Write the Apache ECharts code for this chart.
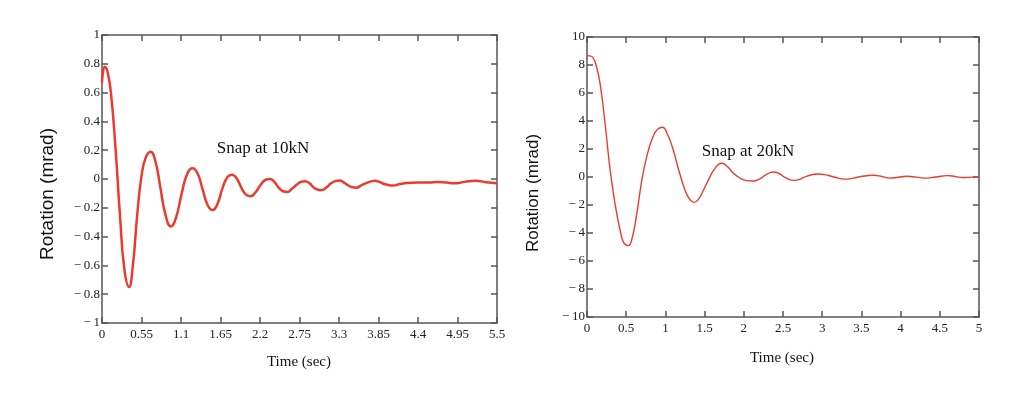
<!DOCTYPE html>
<html>
<head>
<meta charset="utf-8">
<script src="https://cdn.jsdelivr.net/npm/echarts@6/dist/echarts.min.js"></script>
<style>
html,body{margin:0;padding:0;background:#fff;}
#c{width:1024px;height:399px;}
</style>
</head>
<body>
<div id="c"></div>
<script>
// Left panel: Snap at 10kN
var timeA = [0,0.04,0.08,0.13,0.19,0.25,0.31,0.376,0.43,0.49,0.55,0.61,0.678,0.74,0.81,0.88,0.96,1.03,1.11,1.19,1.26,1.33,1.40,1.47,1.54,1.61,1.68,1.75,1.81,1.88,1.95,2.01,2.07,2.14,2.21,2.28,2.34,2.40,2.46,2.52,2.58,2.64,2.71,2.77,2.83,2.89,2.95,3.00,3.06,3.12,3.19,3.25,3.31,3.37,3.43,3.49,3.54,3.61,3.67,3.74,3.80,3.86,3.93,4.0,4.05,4.15,4.25,4.4,4.55,4.67,4.8,4.9,5.05,5.2,5.35,5.5];
var rotA  = [0.67,0.78,0.74,0.57,0.2,-0.25,-0.62,-0.75,-0.6,-0.25,0.02,0.15,0.19,0.13,-0.05,-0.24,-0.33,-0.27,-0.1,0.04,0.075,0.04,-0.07,-0.18,-0.215,-0.17,-0.06,0.015,0.03,0.0,-0.07,-0.11,-0.12,-0.09,-0.04,-0.005,0.0,-0.02,-0.06,-0.085,-0.09,-0.07,-0.04,-0.02,-0.015,-0.03,-0.06,-0.073,-0.077,-0.06,-0.03,-0.015,-0.01,-0.025,-0.045,-0.058,-0.06,-0.045,-0.03,-0.018,-0.012,-0.02,-0.035,-0.043,-0.045,-0.035,-0.028,-0.025,-0.025,-0.02,-0.025,-0.03,-0.02,-0.012,-0.022,-0.03];
// Right panel: Snap at 20kN
var timeB = [0,0.04,0.08,0.12,0.166,0.23,0.29,0.338,0.378,0.43,0.47,0.527,0.57,0.63,0.70,0.76,0.825,0.89,0.96,1.03,1.10,1.17,1.25,1.31,1.365,1.42,1.48,1.55,1.63,1.72,1.79,1.86,1.93,2.02,2.12,2.2,2.28,2.377,2.45,2.53,2.65,2.72,2.8,2.95,3.05,3.15,3.29,3.4,3.5,3.65,3.76,3.86,3.97,4.08,4.2,4.3,4.45,4.6,4.7,4.8,4.9,5.0];
var rotB  = [8.66,8.65,8.5,7.9,6.7,3.86,0.74,-1.2,-2.57,-4.0,-4.7,-4.9,-4.5,-2.8,-0.2,1.4,2.64,3.35,3.55,3.0,1.93,0.5,-0.93,-1.6,-1.81,-1.6,-1.0,-0.2,0.6,0.98,0.75,0.3,0.0,-0.24,-0.29,-0.15,0.15,0.36,0.25,-0.05,-0.24,-0.15,0.05,0.21,0.15,0.0,-0.15,-0.08,0.04,0.12,0.04,-0.08,-0.02,0.05,-0.01,-0.08,0.0,0.1,0.03,-0.04,-0.01,-0.03];

function pairs(xs, ys){ return xs.map(function(x,i){return [x, ys[i]];}); }
function fmt(v){
  var r = Math.round(v*100)/100;
  if (r < 0) return '\u2212\u2009' + String(-r);
  return String(r);
}
var serif = '"Liberation Serif","DejaVu Serif",serif';
var sans = '"Liberation Sans","DejaVu Sans",sans-serif';
var axisCol = '#555';
var red = '#ec3a2c';

function xAxes(grid, max, interval){
  var base = {
    type:'value', gridIndex:grid, min:0, max:max, interval:interval,
    axisLine:{show:true, onZero:false, lineStyle:{color:axisCol, width:1.5}},
    axisTick:{show:true, inside:true, length:6, lineStyle:{color:axisCol, width:1.5}},
    splitLine:{show:false}
  };
  var bottom = Object.assign({}, base, {position:'bottom',
    axisLabel:{show:true, formatter:fmt, color:'#222', fontFamily:serif, fontSize:13, margin:5}});
  var top = Object.assign({}, base, {position:'top', axisLabel:{show:false}});
  return [bottom, top];
}
function yAxes(grid, min, max, interval){
  var base = {
    type:'value', gridIndex:grid, min:min, max:max, interval:interval,
    axisLine:{show:true, onZero:false, lineStyle:{color:axisCol, width:1.5}},
    axisTick:{show:true, inside:true, length:6, lineStyle:{color:axisCol, width:1.5}},
    splitLine:{show:false}
  };
  var left = Object.assign({}, base, {position:'left',
    axisLabel:{show:true, formatter:fmt, color:'#222', fontFamily:serif, fontSize:13, margin:2}});
  var right = Object.assign({}, base, {position:'right', axisLabel:{show:false}});
  return [left, right];
}

var xs = xAxes(0, 5.5, 0.55).concat(xAxes(1, 5, 0.5));
var ys = yAxes(0, -1, 1, 0.2).concat(yAxes(1, -10, 10, 2));

var chart = echarts.init(document.getElementById('c'), null, {renderer:'canvas'});
chart.setOption({
  backgroundColor:'#fff',
  animation:false,
  grid:[
    {left:102, top:35, width:395, height:288},
    {left:587, top:37, width:392, height:280}
  ],
  xAxis: xs,
  yAxis: ys,
  series:[
    {type:'line', xAxisIndex:0, yAxisIndex:0, data:pairs(timeA, rotA), smooth:0.5, showSymbol:false,
     lineStyle:{color:red, width:2.5}},
    {type:'line', xAxisIndex:2, yAxisIndex:2, data:pairs(timeB, rotB), smooth:0.5, showSymbol:false,
     lineStyle:{color:red, width:1.4}}
  ],
  graphic:[
    {type:'text', x:48, y:194, rotation:Math.PI/2, style:{text:'Rotation (mrad)', font:'19px '+sans, fill:'#111', textAlign:'center', textVerticalAlign:'middle'}},
    {type:'text', x:533, y:193, rotation:Math.PI/2, style:{text:'Rotation (mrad)', font:'17px '+sans, fill:'#111', textAlign:'center', textVerticalAlign:'middle'}},
    {type:'text', x:299, y:362, style:{text:'Time (sec)', font:'15px '+serif, fill:'#111', textAlign:'center', textVerticalAlign:'middle'}},
    {type:'text', x:782, y:358, style:{text:'Time (sec)', font:'15px '+serif, fill:'#111', textAlign:'center', textVerticalAlign:'middle'}},
    {type:'text', x:263, y:149, style:{text:'Snap at 10kN', font:'17px '+serif, fill:'#111', textAlign:'center', textVerticalAlign:'middle'}},
    {type:'text', x:748, y:152, style:{text:'Snap at 20kN', font:'17px '+serif, fill:'#111', textAlign:'center', textVerticalAlign:'middle'}}
  ]
});
</script>
</body>
</html>
